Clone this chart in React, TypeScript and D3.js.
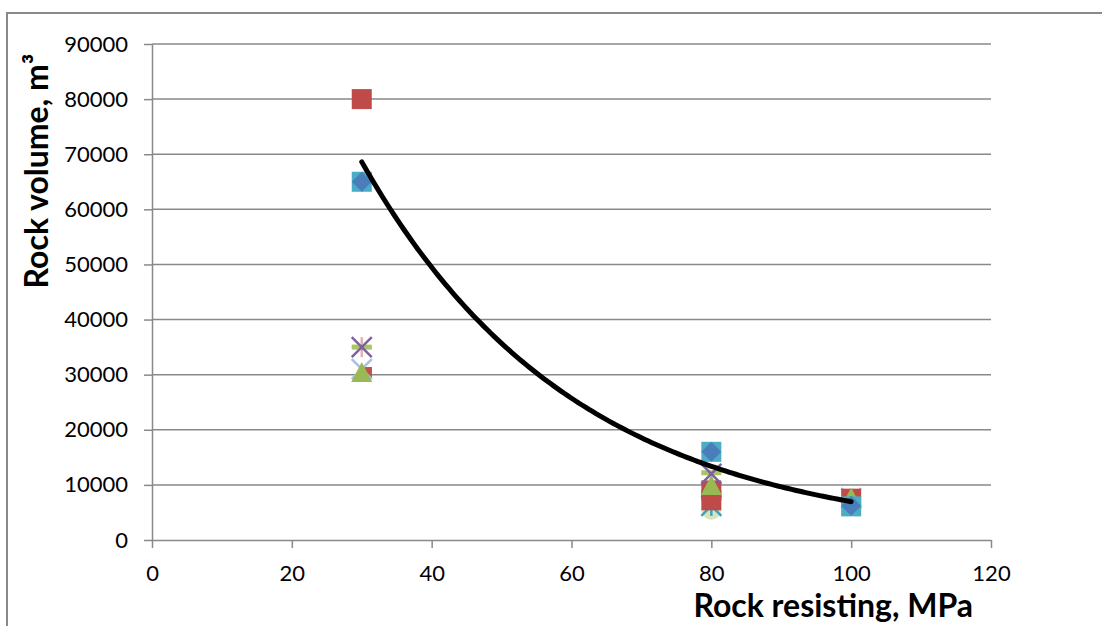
import { useEffect, useRef } from "react";
import * as d3 from "d3";

// values
const xTicks = [0, 20, 40, 60, 80, 100, 120];
const yTicks = [0, 10000, 20000, 30000, 40000, 50000, 60000, 70000, 80000, 90000];

const lightCircle = [{ x: 80, y: 5500 }];
const aquaStar = [{ x: 80, y: 6200 }];
const darkRedSquare = [{ x: 30.6, y: 30300 }];
const lightBlueCross = [{ x: 30, y: 31000 }, { x: 100, y: 7600 }];
const redSquare = [{ x: 30, y: 80000 }, { x: 80, y: 7200 }, { x: 80, y: 9000 }, { x: 100, y: 7500 }];
const greenTriangle = [{ x: 30, y: 30500 }, { x: 80, y: 10000 }, { x: 100, y: 7700 }];
const pinkPlus = [{ x: 30, y: 35000 }];
const greenDash = [{ x: 30, y: 35000 }, { x: 80, y: 12200 }];
const purpleCross = [{ x: 30, y: 35000 }, { x: 80, y: 12000 }];
const aquaSquare = [{ x: 30, y: 65000 }, { x: 80, y: 16000 }, { x: 100, y: 6100 }];
const blueDiamond = [{ x: 30, y: 65000 }, { x: 80, y: 16000 }, { x: 100, y: 6200 }];

// exponential trendline y = a * e^(b x), drawn over the fitted range
const trendA = 183000;
const trendB = -0.0327;
const trendRange = [30, 100];

type Pt = { x: number; y: number };

const series: { data: Pt[]; marker: string; color: string; size: number }[] = [
  { data: lightCircle, marker: "circle", color: "#d7e4bd", size: 10 },
  { data: aquaStar, marker: "star", color: "#3fa3c0", size: 10 },
  { data: darkRedSquare, marker: "square", color: "#c0504d", size: 6 },
  { data: lightBlueCross, marker: "x", color: "#a7c0de", size: 10 },
  { data: redSquare, marker: "square", color: "#be4b48", size: 10 },
  { data: greenTriangle, marker: "triangle", color: "#98b954", size: 10 },
  { data: pinkPlus, marker: "plus", color: "#e6b0ae", size: 10 },
  { data: greenDash, marker: "dash", color: "#a6c663", size: 10 },
  { data: purpleCross, marker: "x", color: "#7d60a0", size: 10 },
  { data: aquaSquare, marker: "square", color: "#4bacc6", size: 10 },
  { data: blueDiamond, marker: "diamond", color: "#4a7ebb", size: 10 },
];

export default function App() {
  const svgRef = useRef<SVGSVGElement>(null);

  useEffect(() => {
    if (!svgRef.current) return;
    const svg = d3.select(svgRef.current);
    svg.selectAll("*").remove();

    const width = 1102;
    const height = 626;
    const margin = { top: 44, right: 111, bottom: 86, left: 152 };
    const grey = "#898989";
    const font = "Lato, 'Open Sans', sans-serif";

    const xScale = d3.scaleLinear().domain([0, 120]).range([margin.left, width - margin.right]);
    const yScale = d3.scaleLinear().domain([0, 90000]).range([height - margin.bottom, margin.top]);

    // outer chart frame (clipped by the window on the right and bottom)
    svg
      .append("rect")
      .attr("x", 7)
      .attr("y", 13)
      .attr("width", 1100)
      .attr("height", 630)
      .attr("fill", "none")
      .attr("stroke", grey)
      .attr("stroke-width", 2);

    // horizontal gridlines
    svg
      .append("g")
      .selectAll("line")
      .data(yTicks.filter(d => d > 0))
      .enter()
      .append("line")
      .attr("x1", xScale(0))
      .attr("x2", xScale(120))
      .attr("y1", d => yScale(d))
      .attr("y2", d => yScale(d))
      .attr("stroke", grey)
      .attr("stroke-width", 1.5);

    const xAxis = d3.axisBottom(xScale).tickValues(xTicks).tickSize(8).tickPadding(17).tickSizeOuter(0);
    const yAxis = d3
      .axisLeft(yScale)
      .tickValues(yTicks)
      .tickFormat(d3.format("d"))
      .tickSize(8)
      .tickPadding(16)
      .tickSizeOuter(0);

    const gx = svg
      .append("g")
      .attr("transform", `translate(0,${yScale(0)})`)
      .call(xAxis);
    const gy = svg
      .append("g")
      .attr("transform", `translate(${xScale(0)},0)`)
      .call(yAxis);

    [gx, gy].forEach(g => {
      g.selectAll(".domain, .tick line").attr("stroke", grey).attr("stroke-width", 1.5);
      g.selectAll("text")
        .attr("fill", "#000")
        .style("font-family", font)
        .style("font-size", "22px");
    });

    // markers
    series.forEach(({ data, marker, color, size: s }) => {
      const g = svg.append("g");
      data.forEach(d => {
        const cx = xScale(d.x);
        const cy = yScale(d.y);
        if (marker === "square") {
          g.append("rect").attr("x", cx - s).attr("y", cy - s).attr("width", 2 * s).attr("height", 2 * s).attr("fill", color);
        } else if (marker === "diamond") {
          g.append("path")
            .attr("d", `M${cx},${cy - s}L${cx + s},${cy}L${cx},${cy + s}L${cx - s},${cy}Z`)
            .attr("fill", color);
        } else if (marker === "triangle") {
          g.append("path")
            .attr("d", `M${cx},${cy - s}L${cx + s + 0.5},${cy + s}L${cx - s - 0.5},${cy + s}Z`)
            .attr("fill", color);
        } else if (marker === "circle") {
          g.append("circle").attr("cx", cx).attr("cy", cy).attr("r", s).attr("fill", color);
        } else if (marker === "dash") {
          g.append("rect").attr("x", cx - s).attr("y", cy - 2.5).attr("width", 2 * s).attr("height", 5).attr("fill", color);
        } else {
          const lines: number[][] = [];
          if (marker === "x" || marker === "star") {
            lines.push([cx - s, cy - s, cx + s, cy + s], [cx - s, cy + s, cx + s, cy - s]);
          }
          if (marker === "plus" || marker === "star") lines.push([cx, cy - s, cx, cy + s]);
          if (marker === "plus") lines.push([cx - s, cy, cx + s, cy]);
          lines.forEach(([x1, y1, x2, y2]) =>
            g.append("line")
              .attr("x1", x1).attr("y1", y1).attr("x2", x2).attr("y2", y2)
              .attr("stroke", color)
              .attr("stroke-width", 2.5)
          );
        }
      });
    });

    // trendline
    const trendLine = d3
      .line<number>()
      .x(d => xScale(d))
      .y(d => yScale(trendA * Math.exp(trendB * d)));
    svg
      .append("path")
      .datum(d3.range(trendRange[0], trendRange[1] + 0.01, 0.5))
      .attr("fill", "none")
      .attr("stroke", "#000")
      .attr("stroke-width", 5)
      .attr("stroke-linecap", "round")
      .attr("d", trendLine);

    // axis titles
    svg
      .append("text")
      .attr("x", 973)
      .attr("y", 617)
      .attr("text-anchor", "end")
      .style("font-family", font)
      .style("font-size", "32px")
      .style("font-weight", "bold")
      .text("Rock resisting, MPa");

    svg
      .append("text")
      .attr("transform", "translate(48,171) rotate(-90)")
      .attr("text-anchor", "middle")
      .style("font-family", font)
      .style("font-size", "32px")
      .style("font-weight", "bold")
      .text("Rock volume, m³");
  }, []);

  return (
    <div style={{ position: "absolute", left: 0, top: 0, width: 1102, height: 626, background: "#fff" }}>
      <svg ref={svgRef} width={1102} height={626} style={{ display: "block" }} />
    </div>
  );
}
